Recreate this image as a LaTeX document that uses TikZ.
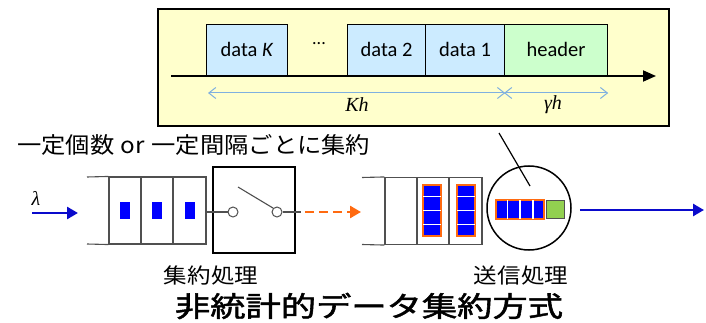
\documentclass[tikz,border=0pt]{standalone}
\usepackage{fontspec}
\setmainfont{Carlito}
\newfontfamily\jp{Noto Sans CJK JP}
\newfontfamily\jpmed{Noto Sans CJK JP}[FakeBold=1.6]
\newfontfamily\serifit{Liberation Serif}
\usetikzlibrary{arrows.meta}
\definecolor{ybg}{HTML}{FFFFCC}
\definecolor{dblue}{HTML}{CCEBFF}
\definecolor{hgreen}{HTML}{CCFFCC}
\definecolor{dimc}{HTML}{7FB0E0}
\definecolor{pblue}{HTML}{0000FF}
\definecolor{ablue}{HTML}{0A0ACC}
\definecolor{orng}{HTML}{FF6A10}
\definecolor{sqgreen}{HTML}{92D050}
\definecolor{qgray}{HTML}{505050}
\tikzset{
  box/.style={draw=black, line width=1.2pt, inner sep=0pt, anchor=south west, font=\fontsize{20.5}{22}\selectfont},
  ybox/.style={draw=black, line width=1.8pt, fill=ybg, inner sep=0pt, anchor=north west},
  dimline/.style={draw=dimc, line width=1pt, {Straight Barb[length=7pt,width=11pt]}-{Straight Barb[length=7pt,width=11pt]}},
  qline/.style={draw=qgray, line width=1.1pt},
  cell/.style={draw=qgray, line width=1.1pt, inner sep=0pt, minimum height=67pt},
  pkt/.style={fill=pblue, inner sep=0pt, minimum width=10pt, minimum height=17pt},
  stack/.style={draw=orng, line width=1.8pt, fill=pblue, inner sep=0pt},
  sep/.style={draw=white, line width=1.2pt},
  thickarrow/.style={draw=ablue, line width=2.6pt, -{Triangle[length=11pt,width=12pt]}},
  smallcirc/.style={circle, draw=qgray, fill=white, line width=1pt, inner sep=0pt, minimum size=10pt},
  lab/.style={font=\jp\fontsize{21}{22}\selectfont, inner sep=0pt},
  mathlab/.style={inner sep=0pt, font=\serifit\itshape\fontsize{20}{22}\selectfont}
}
\begin{document}
\begin{tikzpicture}[x=1pt,y=-1pt]
\useasboundingbox (0,0) rectangle (706,323);
% ---------- yellow frame ----------
\node[ybox, minimum width=511pt, minimum height=117pt] (yb) at (157,8) {};
\coordinate (ax0) at (171,76);
\coordinate (ax1) at (656,76);
\node[box, fill=dblue, minimum width=81pt, minimum height=51pt] (dK) at (206,76) {data \textit{K}};
\node[inner sep=0pt, font=\fontsize{18}{20}\selectfont] (dots) at (319,44) {...};
\node[box, fill=dblue, minimum width=78pt, minimum height=51pt] (d2) at (347,76) {data 2};
\node[box, fill=dblue, minimum width=79pt, minimum height=51pt] (d1) at (425,76) {data 1};
\node[box, fill=hgreen, minimum width=103pt, minimum height=51pt] (hd) at (504,76) {header};
\draw[line width=1.8pt, -{Triangle[length=13pt,width=11pt]}] (ax0) -- (ax1);
\draw[dimline] ([xshift=2pt,yshift=-17pt]dK.south west) -- ([yshift=-17pt]d1.south east);
\draw[dimline] ([yshift=-17pt]hd.south west) -- ([yshift=-17pt]hd.south east);
\node[mathlab] (kh) at (357,105) {Kh};
\node[mathlab] (gh) at (553,105) {γh};
% ---------- caption ----------
\node[anchor=west, inner sep=0pt, font=\jp\fontsize{22.5}{24}\selectfont] (cap) at (17,145) {\scalebox{1.08}[1]{一定個数\hspace{6pt}or\hspace{6pt}一定間隔ごとに集約}};
% ---------- input ----------
\node[mathlab] (lam) at (36,198) {λ};
\coordinate (in0) at (32,213);
\coordinate (in1) at (78,213);
\draw[thickarrow] (in0) -- (in1);
% ---------- queue 1 ----------
\node[cell, minimum width=32pt] (a1) at (125,210.5) {};
\node[cell, minimum width=32pt] (a2) at (157,210.5) {};
\node[cell, minimum width=33pt] (a3) at (189.5,210.5) {};
\coordinate (q1t) at (87,177);
\coordinate (q1b) at (87,244);
\draw[qline] (q1t) -- (a1.north west);
\draw[qline] (q1b) -- (a1.south west);
\node[pkt] (p1) at (a1.center) {};
\node[pkt] (p2) at (a2.center) {};
\node[pkt] (p3) at (a3.center) {};
% ---------- switch ----------
\node[draw=black, line width=2pt, inner sep=0pt, minimum width=82pt, minimum height=86pt] (sw) at (254,210) {};
\node[smallcirc] (sa) at (233,212) {};
\node[smallcirc] (sb) at (277,212) {};
\coordinate (lev) at (238,187);
\coordinate (swout) at (301,212);
\draw[qline] (a3.east |- sa) -- (sa.west);
\draw[qline] (lev) -- (sb.north west);
\draw[qline] (sb.east) -- (swout);
% ---------- dashed orange arrow ----------
\coordinate (or0) at (305,212);
\coordinate (or1) at (361,212);
\draw[draw=orng, line width=2.6pt, dash pattern=on 9pt off 5pt, -{Triangle[length=11pt,width=12pt]}] (or0) -- (or1);
% ---------- queue 2 ----------
\node[cell, minimum width=32pt] (b1) at (401,211) {};
\node[cell, minimum width=32pt] (b2) at (433,211) {};
\node[cell, minimum width=33pt] (b3) at (465.5,211) {};
\coordinate (q2t) at (362,177.5);
\coordinate (q2b) at (362,244.5);
\draw[qline] (q2t) -- (b1.north west);
\draw[qline] (q2b) -- (b1.south west);
\foreach \n/\x in {s1/432,s2/466}{
  \node[stack, minimum width=18pt, minimum height=51pt] (\n) at (\x,210.5) {};
  \draw[sep] ([xshift=1pt,yshift=12.75pt]\n.south west) -- ([xshift=-1pt,yshift=12.75pt]\n.south east);
  \draw[sep] ([xshift=1pt]\n.west) -- ([xshift=-1pt]\n.east);
  \draw[sep] ([xshift=1pt,yshift=-12.75pt]\n.north west) -- ([xshift=-1pt,yshift=-12.75pt]\n.north east);
}
% ---------- transmit circle ----------
\node[circle, draw=black, line width=1.5pt, minimum size=84pt, inner sep=0pt] (tx) at (529,208) {};
\node[stack, minimum width=48pt, minimum height=19pt] (pk) at (520,209.5) {};
\draw[sep] ([xshift=12pt,yshift=-1pt]pk.north west) -- ([xshift=12pt,yshift=1pt]pk.south west);
\draw[sep] ([yshift=-1pt]pk.north) -- ([yshift=1pt]pk.south);
\draw[sep] ([xshift=-12pt,yshift=-1pt]pk.north east) -- ([xshift=-12pt,yshift=1pt]pk.south east);
\node[draw=qgray, line width=1pt, fill=sqgreen, inner sep=0pt, minimum width=18pt, minimum height=18pt, anchor=west] (gq) at ([xshift=1pt]pk.east) {};
\coordinate (lk0) at (499,133);
\coordinate (lk1) at (530,186);
\draw[line width=1.2pt] (lk0) -- (lk1);
\coordinate (out1) at (704,210);
\draw[thickarrow] ([xshift=8pt]tx.east |- out1) -- (out1);
% ---------- labels ----------
\node[lab] (l1) at (211,276) {\scalebox{1.12}[1]{集約処理}};
\node[lab] (l2) at (521,276) {\scalebox{1.12}[1]{送信処理}};
\node[inner sep=0pt, font=\jpmed\fontsize{28}{30}\selectfont] (title) at (369,306) {\scalebox{1.26}[1]{非統計的データ集約方式}};
\end{tikzpicture}
\end{document}
